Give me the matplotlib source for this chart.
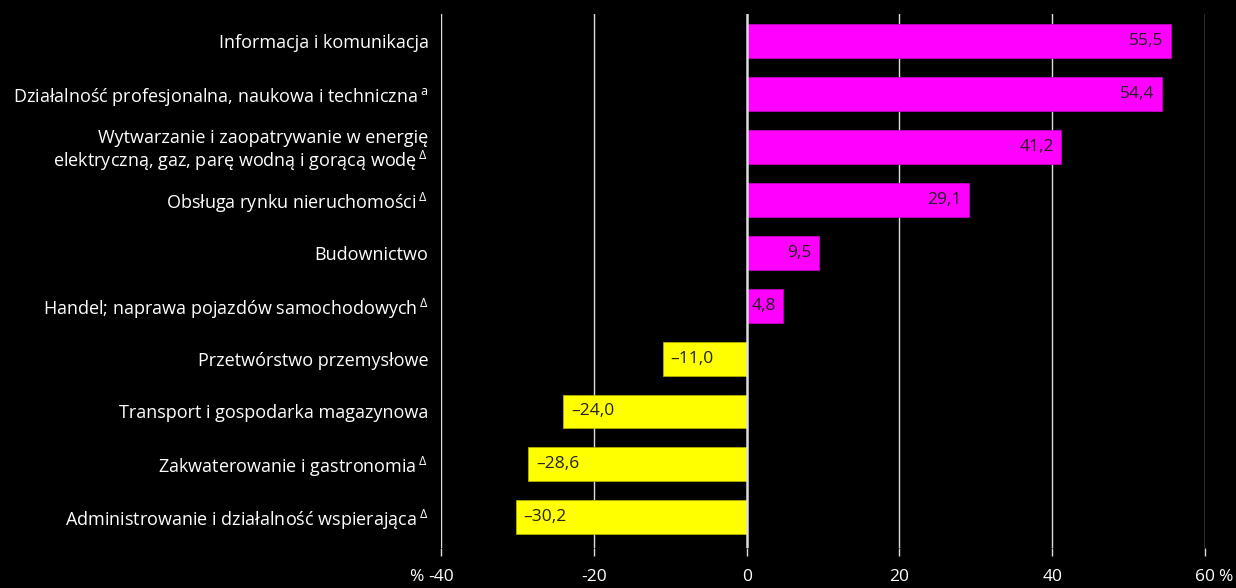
import matplotlib
matplotlib.use("Agg")
import matplotlib.pyplot as plt
from matplotlib.transforms import offset_copy

# sektory i zmiany (%)
labels = [
    "Informacja i komunikacja",
    "Działalność profesjonalna, naukowa i techniczna$\\,^{\\mathrm{a}}$",
    "Wytwarzanie i zaopatrywanie w energię\nelektryczną, gaz, parę wodną i gorącą wodę$\\,^{\\Delta}$",
    "Obsługa rynku nieruchomości$\\,^{\\Delta}$",
    "Budownictwo",
    "Handel; naprawa pojazdów samochodowych$\\,^{\\Delta}$",
    "Przetwórstwo przemysłowe",
    "Transport i gospodarka magazynowa",
    "Zakwaterowanie i gastronomia$\\,^{\\Delta}$",
    "Administrowanie i działalność wspierająca$\\,^{\\Delta}$",
]
values = [55.5, 54.4, 41.2, 29.1, 9.5, 4.8, -11.0, -24.0, -28.6, -30.2]
xticks = [-40, -20, 0, 20, 40, 60]
xticklabels = ["-40", "-20", "0", "20", "40", "60"]

plt.rcParams['font.family'] = ['Open Sans', 'DejaVu Sans']
plt.rcParams['mathtext.fontset'] = 'custom'
plt.rcParams['mathtext.rm'] = 'Open Sans'
plt.rcParams['mathtext.it'] = 'Open Sans'

fig = plt.figure(figsize=(12.36, 5.88), dpi=100, facecolor='black')
ax = fig.add_axes([0.3568, 0.068, 0.975 - 0.3568, 0.908])
ax.set_facecolor('black')

pos = list(range(len(values)))
colors = ['#FF00FF' if v > 0 else '#FFFF00' for v in values]
edges = ['#C000C0' if v > 0 else '#B0B000' for v in values]
ax.barh(pos, values, height=0.64, color=colors, edgecolor=edges, linewidth=0.6, zorder=3)

for p, v in zip(pos, values):
    txt = f"{abs(v):.1f}".replace('.', ',')
    if v < 0:
        txt = '\u2013' + txt
        ax.text(v + 1.0, p, txt, ha='left', va='center', color='#222222', fontsize=12.5, zorder=4)
    else:
        ax.text(v - 1.0, p, txt, ha='right', va='center', color='#222222', fontsize=12.5, zorder=4)

ax.set_xlim(-40, 60)
ax.set_ylim(9.58, -0.51)
ax.set_xticks(xticks)
ax.set_xticklabels(xticklabels)
ax.set_yticks(pos)
ax.set_yticklabels(labels, fontsize=13, color='white', linespacing=1.1)

for x in xticks:
    ax.axvline(x, color='#dddddd', lw=1.8 if x == 0 else 1.0, zorder=2 if x != 0 else 5)

ax.tick_params(axis='y', length=0, pad=9)
ax.tick_params(axis='x', colors='#dddddd', labelcolor='white', labelsize=12.5, length=6, width=1, pad=9)
for s in ax.spines.values():
    s.set_visible(False)

# znak % przy skrajnych etykietach osi
tr = ax.get_xaxis_transform()
ax.text(-40, 0, "%", transform=offset_copy(tr, fig=fig, x=-12.5, y=-15, units='points'),
        ha='right', va='top', color='white', fontsize=12.5)
ax.text(60, 0, "%", transform=offset_copy(tr, fig=fig, x=9.5, y=-15, units='points'),
        ha='left', va='top', color='white', fontsize=12.5)

fig.savefig('out.png', dpi=100, facecolor='black')
